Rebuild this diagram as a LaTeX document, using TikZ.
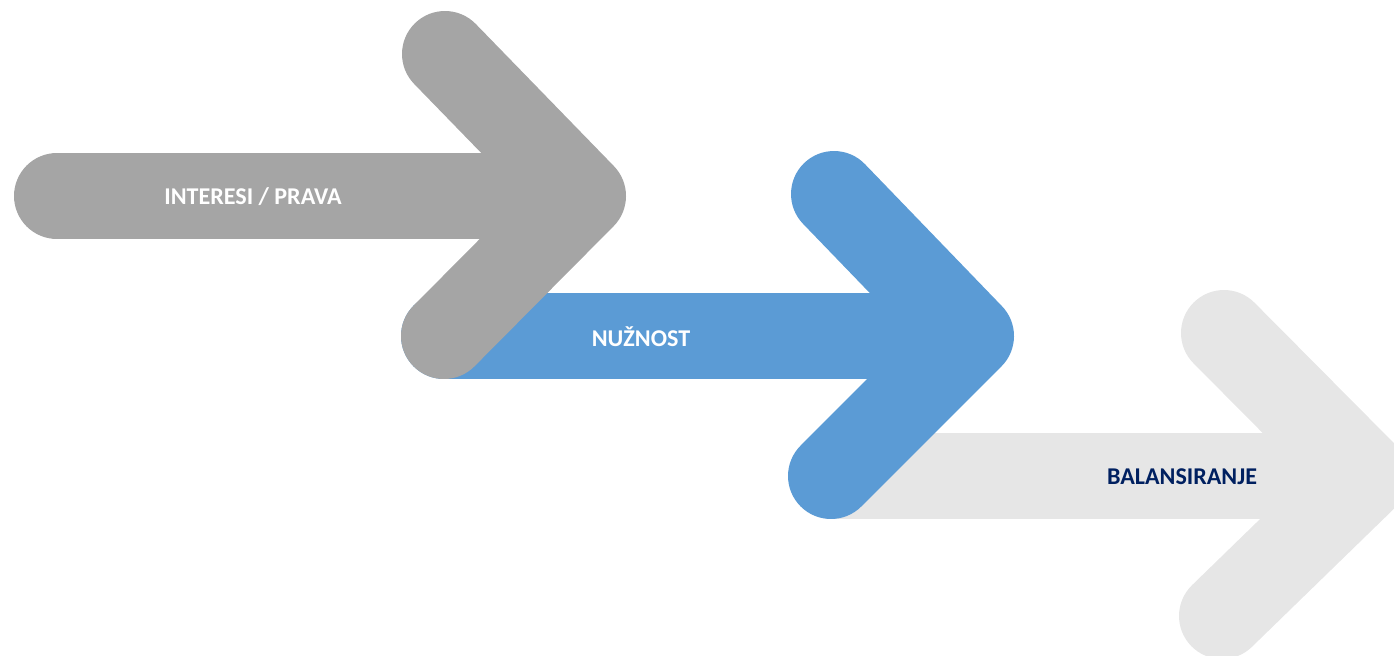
\documentclass[tikz,border=0pt]{standalone}
\usepackage{fontspec}
\setmainfont{Carlito}
\usetikzlibrary{positioning}
\definecolor{arrowgray}{RGB}{165,165,165}
\definecolor{arrowblue}{RGB}{91,155,213}
\definecolor{arrowlight}{RGB}{230,230,230}
\definecolor{darknavy}{RGB}{0,32,96}

\begin{document}
\begin{tikzpicture}[
  x=0.02cm, y=-0.02cm,
  bigarrow/.style={line width=1.72cm, line cap=round, line join=round},
  steptext/.style={font=\bfseries\fontsize{13.7}{16}\selectfont, text=white}
]
  \clip (0,0) rectangle (1394,656);

  % Step 3 (back)
  \coordinate (bTail) at (832,476);
  \coordinate (bTip)  at (1366,476);
  \coordinate (bUp)   at (1224,333);
  \coordinate (bDown) at (1222,616);
  \draw[bigarrow, arrowlight] (bTail) -- (bTip) (bUp) -- (bTip) -- (bDown);

  % Step 2
  \coordinate (nTail) at (444,336);
  \coordinate (nTip)  at (971,336);
  \coordinate (nUp)   at (834,194);
  \coordinate (nDown) at (831,476);
  \draw[bigarrow, arrowblue] (nTail) -- (nTip) (nUp) -- (nTip) -- (nDown);

  % Step 1 (front)
  \coordinate (iTail) at (57,196);
  \coordinate (iTip)  at (583,196);
  \coordinate (iUp)   at (445,54);
  \coordinate (iDown) at (444,336);
  \draw[bigarrow, arrowgray] (iTail) -- (iTip) (iUp) -- (iTip) -- (iDown);

  % Labels
  \node[steptext] (interesi) at (253,197) {INTERESI / PRAVA};
  \node[steptext] (nuznost)  at (641,337) {NUŽNOST};
  \node[steptext, text=darknavy] (balans) at (1182,477) {BALANSIRANJE};
\end{tikzpicture}
\end{document}
